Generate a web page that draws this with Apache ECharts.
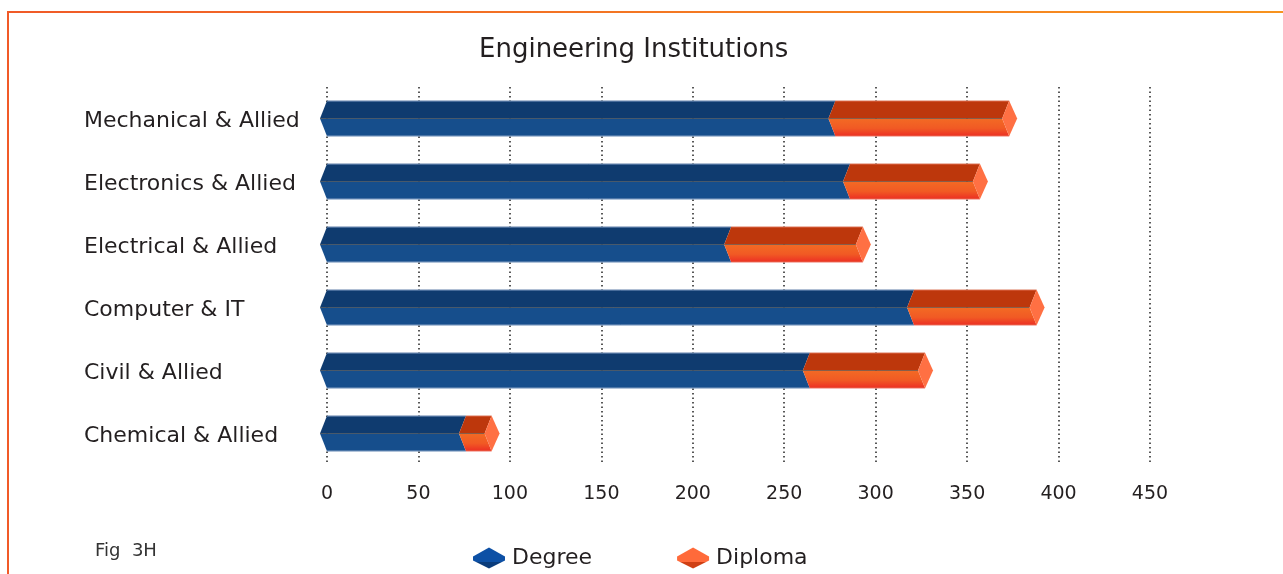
<!DOCTYPE html>
<html>
<head>
<meta charset="utf-8">
<script src="https://cdn.jsdelivr.net/npm/echarts@6/dist/echarts.min.js"></script>
<style>
html,body{margin:0;padding:0;background:#fff;}
#chart{width:1283px;height:574px;}
</style>
</head>
<body>
<div id="chart"></div>
<script>
const categories = ['Mechanical & Allied', 'Electronics & Allied', 'Electrical & Allied', 'Computer & IT', 'Civil & Allied', 'Chemical & Allied'];
const degree = [278, 286, 221, 321, 264, 76];
const diploma = [95, 71, 72, 67, 63, 14];
const xTicks = [0, 50, 100, 150, 200, 250, 300, 350, 400, 450];
const seriesNames = ['Degree', 'Diploma'];
const titleText = 'Engineering Institutions';
const figText = 'Fig  3H';

const FONT = '"DejaVu Sans", "Liberation Sans", Arial, sans-serif';
const TXT = '#231f20';

const degreeData = categories.map((c, i) => [i, 0, degree[i]]);
const diplomaData = categories.map((c, i) => [i, degree[i], degree[i] + diploma[i]]);

function makeRender(topColor, bottomFill, withCap, capColor, edgeColor) {
  return function (params, api) {
    const ci = api.value(0);
    const p0 = api.coord([api.value(1), ci]);
    const p1 = api.coord([api.value(2), ci]);
    const band = api.size([0, 1])[1];
    const h = band * 0.565 / 2;
    const c = 7;
    const yc = p0[1];
    const x0 = p0[0], x1 = p1[0];
    const top = yc - h, bot = yc + h;
    const children = [
      {
        type: 'polygon',
        shape: { points: [[x0, top], [x1, top], [x1 - c, yc], [x0 - c, yc]] },
        style: { fill: topColor }
      },
      {
        type: 'polygon',
        shape: { points: [[x0 - c, yc], [x1 - c, yc], [x1, bot], [x0, bot]] },
        style: { fill: bottomFill }
      },
      {
        type: 'polyline',
        shape: { points: [[x0 - c, yc], [x1 - c, yc]] },
        style: { stroke: 'rgba(70,70,70,0.6)', lineWidth: 1, fill: null }
      },
      {
        type: 'polyline',
        shape: { points: [[x0, top + 0.5], [x1, top + 0.5]] },
        style: { stroke: edgeColor, lineWidth: 1, fill: null }
      },
      {
        type: 'polyline',
        shape: { points: [[x0, bot - 0.5], [x1, bot - 0.5]] },
        style: { stroke: edgeColor, lineWidth: 1, fill: null }
      }
    ];
    if (withCap) {
      children.push({
        type: 'polygon',
        shape: { points: [[x1, top], [x1 + 8, yc], [x1, bot], [x1 - c, yc]] },
        style: { fill: capColor }
      });
    }
    return { type: 'group', children: children };
  };
}

const chart = echarts.init(document.getElementById('chart'), null, { renderer: 'canvas' });

const diplomaFront = new echarts.graphic.LinearGradient(0, 0, 0, 1, [
  { offset: 0, color: '#f36a24' },
  { offset: 0.55, color: '#f15a24' },
  { offset: 1, color: '#ec2d24' }
]);

const option = {
  backgroundColor: '#ffffff',
  animation: false,
  title: {
    text: titleText,
    left: 474,
    top: 32,
    textStyle: { fontFamily: FONT, fontSize: 26, fontWeight: 'normal', color: TXT }
  },
  grid: { left: 327, right: 133, top: 87, bottom: 109, containLabel: false },
  xAxis: {
    type: 'value',
    min: 0,
    max: 450,
    interval: 50,
    axisLine: { show: false },
    axisTick: { show: false },
    axisLabel: {
      margin: 20,
      fontFamily: FONT,
      fontSize: 19,
      color: TXT,
      formatter: function (v) { return xTicks.indexOf(v) >= 0 ? String(v) : ''; }
    },
    splitLine: {
      show: true,
      lineStyle: { color: '#222', width: 1.5, type: [1.5, 3] }
    }
  },
  yAxis: {
    type: 'category',
    data: categories,
    inverse: true,
    axisLine: { show: false },
    axisTick: { show: false },
    splitLine: { show: false },
    axisLabel: {
      align: 'left',
      margin: 243,
      formatter: function (v) { return '{a|' + v + '}'; },
      rich: {
        a: {
          fontFamily: FONT,
          fontSize: 22,
          color: TXT,
          padding: [6, 0, 0, 0]
        }
      }
    }
  },
  legend: {
    left: 468,
    top: 542,
    itemWidth: 32,
    itemHeight: 21,
    itemGap: 85,
    icon: 'path://M16,0 L32,9 L32,13 L16,21 L0,13 L0,9 Z',
    textStyle: { fontFamily: FONT, fontSize: 22, color: TXT, padding: [0, 0, 0, 2] },
    data: [
      {
        name: seriesNames[0],
        itemStyle: {
          color: new echarts.graphic.LinearGradient(0, 0, 0, 1, [
            { offset: 0, color: '#0d50a5' },
            { offset: 0.7, color: '#0d50a5' },
            { offset: 0.7, color: '#0a3b7a' },
            { offset: 1, color: '#0a3b7a' }
          ])
        }
      },
      {
        name: seriesNames[1],
        itemStyle: {
          color: new echarts.graphic.LinearGradient(0, 0, 0, 1, [
            { offset: 0, color: '#ff6a3a' },
            { offset: 0.7, color: '#ff6a3a' },
            { offset: 0.7, color: '#cf3f14' },
            { offset: 1, color: '#cf3f14' }
          ])
        }
      }
    ]
  },
  graphic: [
    {
      type: 'line',
      shape: { x1: 8, y1: 12, x2: 1283, y2: 12 },
      style: {
        lineWidth: 2,
        stroke: new echarts.graphic.LinearGradient(0, 0, 1, 0, [
          { offset: 0, color: '#f05a28' },
          { offset: 1, color: '#f7931e' }
        ])
      },
      silent: true
    },
    {
      type: 'line',
      shape: { x1: 8, y1: 11, x2: 8, y2: 574 },
      style: { lineWidth: 2, stroke: '#f15a28' },
      silent: true
    },
    {
      type: 'text',
      left: 95,
      top: 542,
      style: { text: figText, fontFamily: FONT, fontSize: 18, fill: '#333' },
      silent: true
    }
  ],
  series: [
    {
      name: seriesNames[0],
      type: 'custom',
      itemStyle: { color: '#0d50a5' },
      renderItem: makeRender('#0f3b6f', '#164e8c', false, null, 'rgba(120,150,190,0.8)'),
      encode: { x: [1, 2], y: 0 },
      data: degreeData,
      z: 2
    },
    {
      name: seriesNames[1],
      type: 'custom',
      itemStyle: { color: '#ff6a3a' },
      renderItem: makeRender('#bd370c', diplomaFront, true, '#ff7043', 'rgba(230,120,90,0.6)'),
      encode: { x: [1, 2], y: 0 },
      data: diplomaData,
      z: 3
    }
  ]
};

chart.setOption(option);
</script>
</body>
</html>
